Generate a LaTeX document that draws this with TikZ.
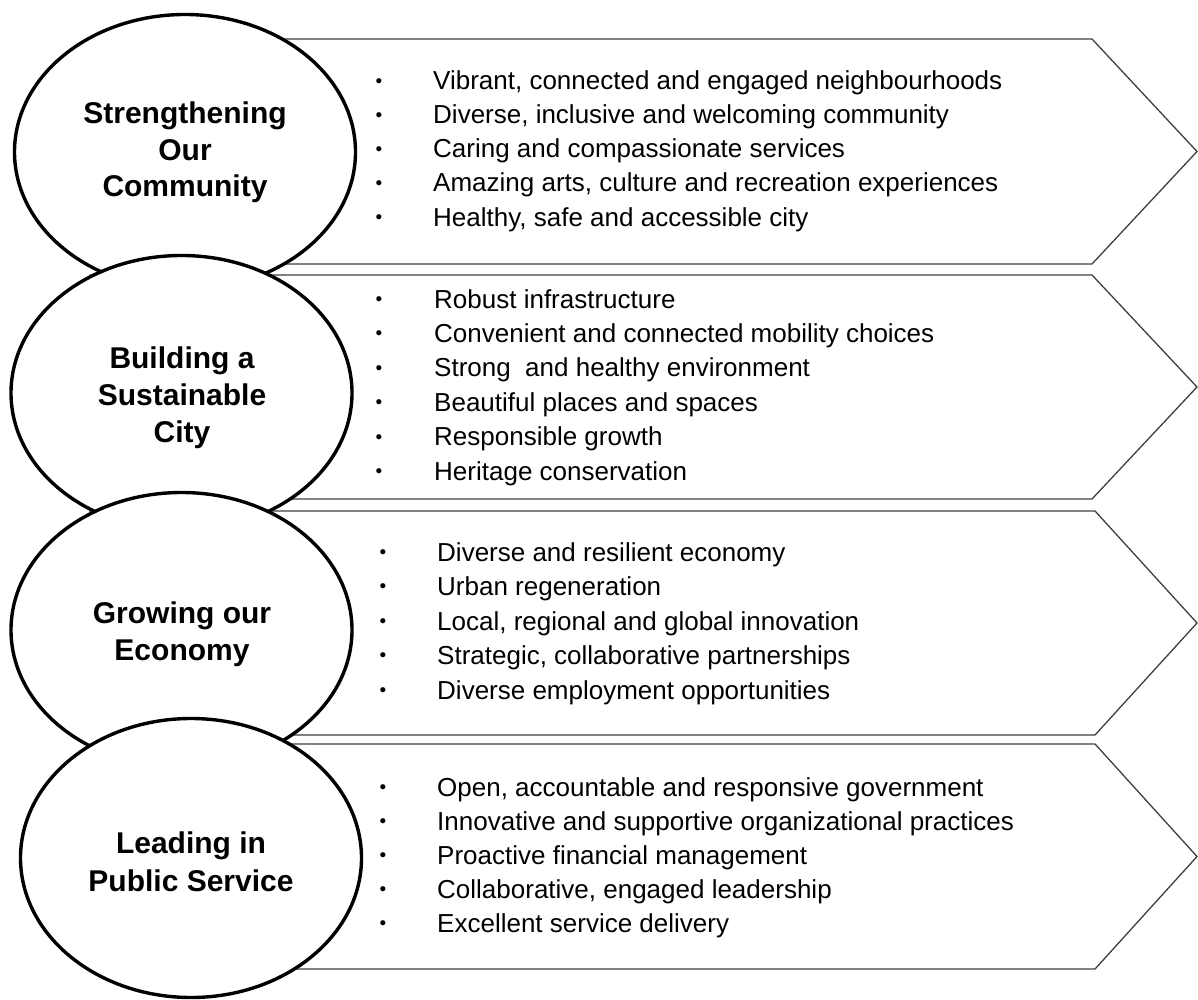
\documentclass[tikz,border=0pt]{standalone}
\usepackage{fontspec}
\setmainfont{Liberation Sans}
\usetikzlibrary{shapes.geometric}
\definecolor{boxline}{RGB}{64,64,64}
\begin{document}
\begin{tikzpicture}[x=1pt,y=-1pt,
  chevron/.style={draw=boxline, line width=1.3pt, fill=white, line join=miter},
  pillar/.style={ellipse, draw=black, line width=3.4pt, fill=white, minimum width=341pt, minimum height=275pt, inner sep=0pt},
  head/.style={font=\fontsize{30}{36}\selectfont\bfseries, anchor=base, inner sep=0pt},
  item/.style={font=\fontsize{26}{31}\selectfont, anchor=base west, inner sep=0pt},
  bul/.style={font=\fontsize{19}{22}\selectfont, inner sep=0pt}]
\fill[white] (0,0) rectangle (1198,1000);
\useasboundingbox (0,0) rectangle (1198,1000);

% chevron boxes
\draw[chevron] (90,39) -- (1092,39) -- (1197,151.5) -- (1092,264) -- (90,264) -- cycle;
\draw[chevron] (90,275) -- (1092,275) -- (1197,387) -- (1092,499) -- (90,499) -- cycle;
\draw[chevron] (90,511) -- (1095,511) -- (1197,623) -- (1095,735) -- (90,735) -- cycle;
\draw[chevron] (90,744) -- (1095,744) -- (1197,856.5) -- (1095,969) -- (90,969) -- cycle;

% ellipses
\node[pillar] (p1) at (185,152) {};
\node[pillar] (p2) at (181.5,393) {};
\node[pillar] (p3) at (181.5,630) {};
\node[pillar, minimum height=279pt] (p4) at (191,858) {};

% headings
\node[head] (h1a) at (185,124) {Strengthening};
\node[head] (h1b) at (185,161) {Our};
\node[head] (h1c) at (185,197) {Community};
\node[head] (h2a) at (182,368) {Building a};
\node[head] (h2b) at (182,405) {Sustainable};
\node[head] (h2c) at (182,442) {City};
\node[head] (h3a) at (182,623) {Growing our};
\node[head] (h3b) at (182,660) {Economy};
\node[head] (h4a) at (191,853) {Leading in};
\node[head] (h4b) at (191,891) {Public Service};

% items
\foreach \t [count=\i from 0] in {{Vibrant, connected and engaged neighbourhoods},{Diverse, inclusive and welcoming community},{Caring and compassionate services},{Amazing arts, culture and recreation experiences},{Healthy, safe and accessible city}}{
  \node[item] (ia\i) at (433,90+34*\i) {\t};
  \node[bul] (ba\i) at (379,83+34*\i) {•};
}
\foreach \t [count=\i from 0] in {{Robust infrastructure},{Convenient and connected mobility choices},{Strong\ \ and healthy environment},{Beautiful places and spaces},{Responsible growth},{Heritage conservation}}{
  \node[item] (ib\i) at (434,308+34.4*\i) {\t};
  \node[bul] (bb\i) at (379,301+34.4*\i) {•};
}
\foreach \t [count=\i from 0] in {{Diverse and resilient economy},{Urban regeneration},{Local, regional and global innovation},{Strategic, collaborative partnerships},{Diverse employment opportunities}}{
  \node[item] (ic\i) at (437,561+34.5*\i) {\t};
  \node[bul] (bc\i) at (383,554+34.5*\i) {•};
}
\foreach \t [count=\i from 0] in {{Open, accountable and responsive government},{Innovative and supportive organizational practices},{Proactive financial management},{Collaborative, engaged leadership},{Excellent service delivery}}{
  \node[item] (id\i) at (437,796+34*\i) {\t};
  \node[bul] (bd\i) at (383,789+34*\i) {•};
}
\end{tikzpicture}
\end{document}
